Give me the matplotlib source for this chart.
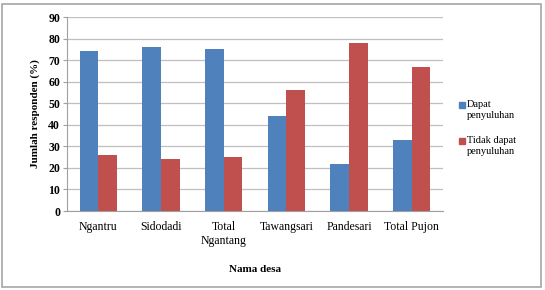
import matplotlib.pyplot as plt
import numpy as np
from matplotlib.patches import Rectangle

plt.rcParams['font.family'] = ['Liberation Serif', 'DejaVu Serif']

desa = ['Ngantru', 'Sidodadi', 'Total\nNgantang', 'Tawangsari', 'Pandesari', 'Total Pujon']
dapat = [74, 76, 75, 44, 22, 33]
tidak_dapat = [26, 24, 25, 56, 78, 67]
seri = ['Dapat\npenyuluhan', 'Tidak dapat\npenyuluhan']
warna = ['#4F81BD', '#C0504D']

W, H = 545, 290
fig = plt.figure(figsize=(W / 100, H / 100), dpi=100)
ax = fig.add_axes([67 / W, 1 - 211 / H, (443 - 67) / W, (211 - 17) / H])

x = np.arange(len(desa))
w = 0.3
ax.bar(x - w / 2, dapat, w, color=warna[0], zorder=3)
ax.bar(x + w / 2, tidak_dapat, w, color=warna[1], zorder=3)

ax.set_xlim(-0.5, len(desa) - 0.5)
ax.set_ylim(0, 90)
ax.set_yticks(range(0, 91, 10))
ax.yaxis.grid(True, color='#BFBFBF', linewidth=0.9, zorder=0)
ax.set_xticks(x)
ax.set_xticklabels(desa, fontsize=8.5, linespacing=1.2)
ax.tick_params(axis='y', labelsize=8.5, length=3, color='#A0A0A0', pad=2)
ax.tick_params(axis='x', length=0, pad=7)
for lbl in ax.get_yticklabels():
    lbl.set_fontweight('bold')
for s in ['top', 'right']:
    ax.spines[s].set_visible(False)
for s in ['left', 'bottom']:
    ax.spines[s].set_color('#A0A0A0')

ax.set_ylabel('Jumlah responden (%)', fontsize=8, fontweight='bold', labelpad=6)
ax.set_xlabel('Nama desa', fontsize=8, fontweight='bold', labelpad=13)

# legend drawn by hand so the square sits by the first text line
for i, (lab, c) in enumerate(zip(seri, warna)):
    yc = 105 + i * 36
    fig.patches.append(Rectangle((459 / W, 1 - (yc + 3) / H), 6 / W, 6 / H,
                                 transform=fig.transFigure, color=c))
    fig.text(467 / W, 1 - (yc - 5) / H, lab, fontsize=7.5, va='top', ha='left',
             linespacing=1.25)

fig.patches.append(Rectangle((2 / W, 3 / H), (541 - 2) / W, (286 - 3) / H,
                             transform=fig.transFigure, fill=False,
                             edgecolor='#A6A6A6', linewidth=1.2))

fig.savefig('out.png', dpi=100)
